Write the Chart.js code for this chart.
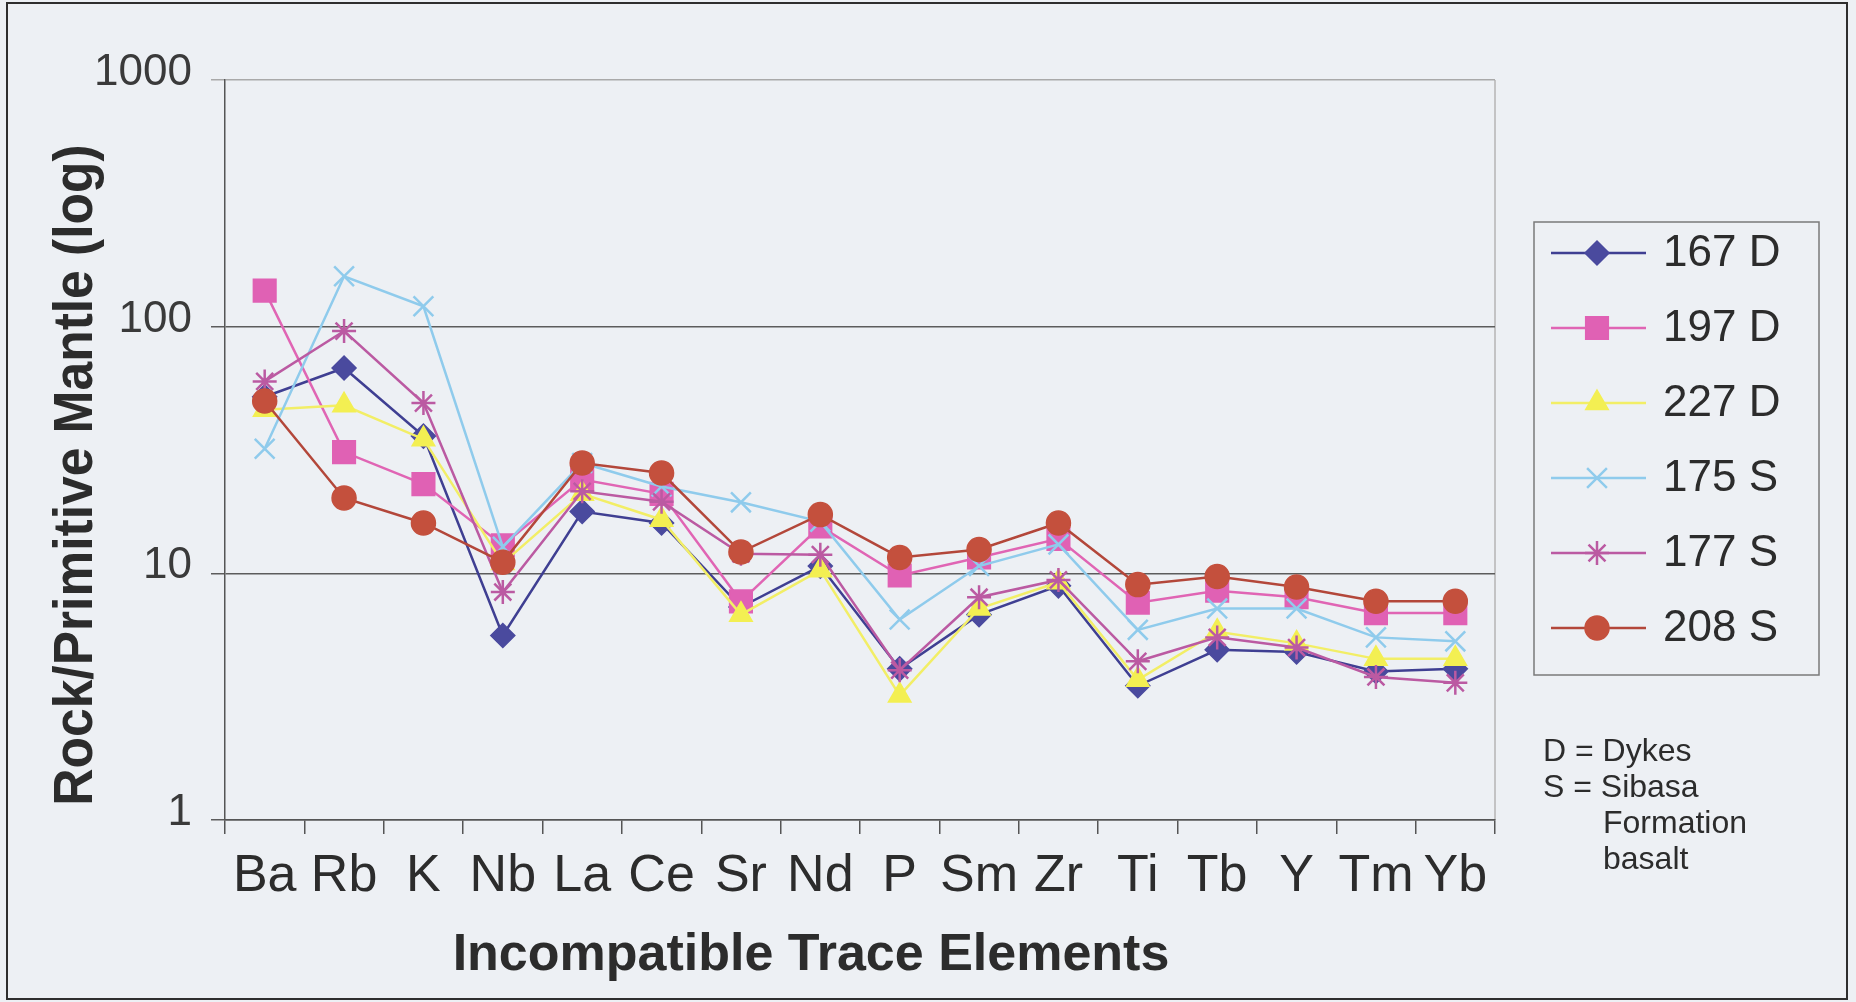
<!DOCTYPE html>
<html>
<head>
<meta charset="utf-8">
<script src="https://cdn.jsdelivr.net/npm/chart.js@4.4.1/dist/chart.umd.min.js"></script>
<style>
  html, body { margin: 0; padding: 0; background: #edf0f4; }
  #wrap { width: 1856px; height: 1002px; }
</style>
</head>
<body>
<div id="wrap"><canvas id="chart" width="1856" height="1002"></canvas></div>
<script>
// elements on the x axis
const elements = ["Ba", "Rb", "K", "Nb", "La", "Ce", "Sr", "Nd", "P", "Sm", "Zr", "Ti", "Tb", "Y", "Tm", "Yb"];

// rock / primitive mantle values
const s167D = [52, 68, 36, 5.6, 17.8, 16, 7.3, 10.7, 4.1, 6.8, 8.9, 3.5, 4.9, 4.8, 4.0, 4.1];
const s197D = [140, 31, 23, 13, 24, 21, 7.7, 15.5, 9.8, 11.6, 13.8, 7.6, 8.5, 8.0, 6.9, 6.9];
const s227D = [46, 48, 35, 11, 21, 16.5, 6.8, 10.3, 3.2, 7.2, 9.2, 3.7, 5.8, 5.2, 4.5, 4.5];
const s175S = [32, 160, 121, 12.8, 28, 22.5, 19.4, 16.2, 6.5, 10.7, 13.1, 5.9, 7.2, 7.2, 5.5, 5.3];
const s177S = [60, 96, 49, 8.4, 21.5, 19.5, 12, 11.9, 4.05, 8.0, 9.4, 4.4, 5.5, 5.0, 3.8, 3.6];
const s208S = [50, 20.2, 16, 11.1, 28, 25.5, 12.2, 17.3, 11.6, 12.5, 16, 9.0, 9.7, 8.8, 7.7, 7.7];

const seriesNames = ["167 D", "197 D", "227 D", "175 S", "177 S", "208 S"];
const seriesData = [s167D, s197D, s227D, s175S, s177S, s208S];
const yTicks = [1, 10, 100, 1000];
const noteLines = ["D = Dykes", "S = Sibasa", "Formation", "basalt"];

// looks
const lineColors = ["#3f3f92", "#e065b4", "#f2ee66", "#8fcbec", "#bb5aa2", "#b3473a"];
const markColors = ["#4a4a9e", "#e061b4", "#f3ef52", "#8fcbec", "#bb5aa2", "#c4503d"];
const markStyles = ["rectRot", "rect", "triangle", "crossRot", "star", "circle"];
const markRadius = [12, 16, 13, 14, 12, 12];
const markBorder = [1.5, 1.5, 1.5, 2.5, 2.5, 1.5];

const FONT = "'Liberation Sans', Arial, sans-serif";
const TEXT = "#2c2c2c";

const datasets = seriesData.map((values, i) => ({
    label: seriesNames[i],
    data: values,
    borderColor: lineColors[i],
    backgroundColor: markColors[i],
    borderWidth: 2.5,
    pointStyle: markStyles[i],
    pointRadius: markRadius[i],
    pointHoverRadius: markRadius[i],
    pointBackgroundColor: markColors[i],
    pointBorderColor: markColors[i],
    pointBorderWidth: markBorder[i],
    tension: 0,
    // later series sit on top, like the spreadsheet
    order: seriesNames.length - i
}));

// background, frame, titles, legend box and notes
const decor = {
    id: "decor",
    beforeDraw(chart) {
        const ctx = chart.ctx;
        const area = chart.chartArea;
        ctx.save();
        ctx.fillStyle = "#edf0f4";
        ctx.fillRect(0, 0, chart.width, chart.height);
        ctx.strokeStyle = "#2e2e2e";
        ctx.lineWidth = 2;
        ctx.strokeRect(7, 3, 1840, 996);
        ctx.strokeStyle = "#b5b5b5";
        ctx.lineWidth = 1.5;
        ctx.beginPath();
        ctx.moveTo(area.right, area.top);
        ctx.lineTo(area.right, area.bottom);
        ctx.stroke();
        ctx.restore();
    },
    afterDraw(chart) {
        const ctx = chart.ctx;
        ctx.save();
        ctx.fillStyle = TEXT;

        // y title
        ctx.save();
        ctx.translate(77, 475);
        ctx.rotate(-Math.PI / 2);
        ctx.scale(0.92, 1);
        ctx.font = "bold 56px " + FONT;
        ctx.textAlign = "center";
        ctx.textBaseline = "middle";
        ctx.fillText("Rock/Primitive Mantle (log)", 0, 0);
        ctx.restore();

        // x title
        ctx.font = "bold 52px " + FONT;
        ctx.textAlign = "center";
        ctx.textBaseline = "middle";
        ctx.fillText("Incompatible Trace Elements", 811, 956);

        // legend
        ctx.strokeStyle = "#7a7a7a";
        ctx.lineWidth = 1.5;
        ctx.strokeRect(1534, 222, 285, 453);
        ctx.font = "44px " + FONT;
        ctx.textAlign = "left";
        seriesNames.forEach((name, i) => {
            const y = 253 + i * 75;
            ctx.strokeStyle = lineColors[i];
            ctx.lineWidth = 2.5;
            ctx.beginPath();
            ctx.moveTo(1551, y);
            ctx.lineTo(1646, y);
            ctx.stroke();
            ctx.fillStyle = markColors[i];
            ctx.strokeStyle = markColors[i];
            ctx.lineWidth = markBorder[i];
            Chart.helpers.drawPoint(ctx, {
                pointStyle: markStyles[i],
                radius: markRadius[i],
                rotation: 0,
                borderWidth: markBorder[i]
            }, 1597, y);
            ctx.fillStyle = TEXT;
            ctx.fillText(name, 1663, y + 1);
        });

        // notes under the legend
        ctx.font = "32px " + FONT;
        noteLines.forEach((line, i) => {
            const x = i < 2 ? 1543 : 1603;
            ctx.fillText(line, x, 752 + i * 36);
        });
        ctx.restore();
    }
};

const context = document.getElementById("chart").getContext("2d");
const chart = new Chart(context, {
    type: "line",
    data: { labels: elements, datasets },
    options: {
        responsive: false,
        animation: false,
        events: [],
        layout: { padding: { left: 0, top: 80, right: 361, bottom: 0 } },
        plugins: {
            legend: { display: false },
            tooltip: { enabled: false }
        },
        scales: {
            x: {
                type: "category",
                offset: true,
                afterFit: (scale) => { scale.height = 182; },
                grid: {
                    offset: true,
                    drawOnChartArea: false,
                    drawTicks: true,
                    tickLength: 14,
                    color: "#555555",
                    lineWidth: 1.5
                },
                border: { display: true, color: "#555555", width: 1.5 },
                ticks: {
                    autoSkip: false,
                    maxRotation: 0,
                    minRotation: 0,
                    padding: 11,
                    color: TEXT,
                    font: { family: FONT, size: 52 }
                }
            },
            y: {
                type: "logarithmic",
                min: 1,
                max: 1000,
                afterFit: (scale) => { scale.width = 225; },
                afterBuildTicks: (scale) => {
                    scale.ticks = yTicks.map((v) => ({ value: v }));
                },
                grid: {
                    drawTicks: true,
                    tickLength: 14,
                    color: (c) => (c.tick && c.tick.value === 1000 ? "#a9a9a9" : "#5c5c5c"),
                    lineWidth: 1.5
                },
                border: { display: true, color: "#555555", width: 1.5 },
                ticks: {
                    padding: 19,
                    labelOffset: -7,
                    color: "#3a3a3a",
                    font: { family: FONT, size: 44 },
                    callback: (value) => String(value)
                }
            }
        }
    },
    plugins: [decor]
});
</script>
</body>
</html>
